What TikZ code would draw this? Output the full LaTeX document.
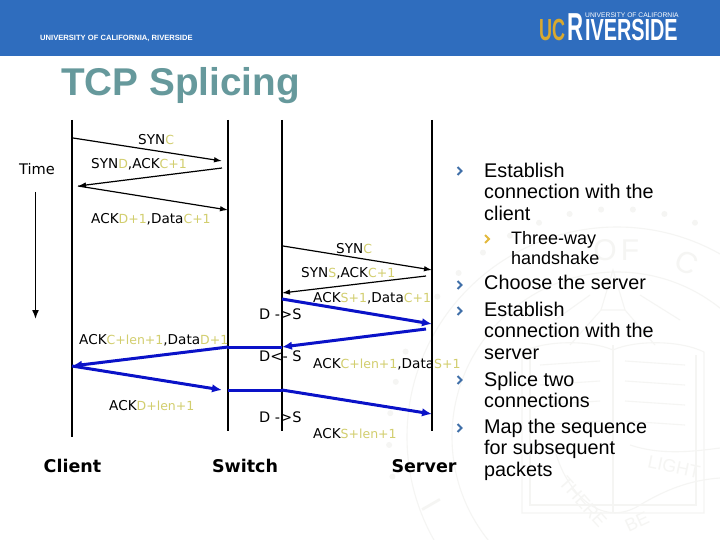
\documentclass[tikz,border=0pt]{standalone}
\usepackage{fontspec}
\setmainfont{Liberation Sans}
\newfontfamily\lblfont{DejaVu Sans}
\usetikzlibrary{arrows.meta,calc}
\definecolor{hdr}{HTML}{2F6DBE}
\definecolor{ttl}{HTML}{66999C}
\definecolor{subc}{HTML}{D2CE6E}
\definecolor{arrb}{HTML}{0A12C8}
\definecolor{bul}{HTML}{3F6FA8}
\definecolor{bulb}{HTML}{E3B93C}
\definecolor{gold}{HTML}{D9A92F}
\definecolor{wm}{HTML}{F5F5F3}
\newcommand{\sbs}[1]{\textcolor{subc}{\fontsize{12.5}{12.5}\selectfont #1}}
\tikzset{
 x=1pt,y=-1pt,
 life/.style={line width=1.7pt,black},
 msg/.style={line width=1.2pt,black,-{Latex[length=8pt,width=5.5pt]}},
 bmsg/.style={line width=3pt,arrb,-{Latex[length=10pt,width=8.5pt]}},
 bline/.style={line width=3pt,arrb},
 lbl/.style={inner sep=0pt,anchor=base west,font=\lblfont\fontsize{13.6}{13.6}\selectfont},
 dlbl/.style={inner sep=0pt,anchor=base west,font=\lblfont\fontsize{14.5}{14.5}\selectfont},
 captext/.style={inner sep=0pt,anchor=base,font=\lblfont\bfseries\fontsize{17.5}{17.5}\selectfont},
 bt/.style={inner sep=0pt,anchor=north west,align=left,font=\fontsize{19.8}{21.5}\selectfont},
 bts/.style={inner sep=0pt,anchor=north west,align=left,font=\fontsize{18}{20}\selectfont},
 chev/.style={line width=2pt,line cap=butt},
 wmline/.style={draw=wm,line width=1.1pt},
 wmtext/.style={wm,inner sep=0pt,font=\fontsize{30}{30}\selectfont},
 wmsmall/.style={wm,inner sep=0pt,font=\fontsize{18}{18}\selectfont},
}
\begin{document}
\begin{tikzpicture}
\useasboundingbox (0,0) rectangle (720,540);
\fill[white] (0,0) rectangle (720,540);
% watermark seal
\coordinate (seal) at (617,437);
\draw[wmline] (seal) circle (210);
\draw[wmline] (seal) circle (165);
\foreach \a in {170,178,...,370} \fill[wm] ($(seal)+(\a:228)$) circle (3);
\node[wmtext] (wo) at (605,250) {O};
\node[wmtext] (wf) at (630,250) {F};
\node[wmtext,rotate=-25] (wc) at (687,263) {C};
\node[wmsmall,font=\fontsize{30}{30}\selectfont,rotate=-60] (wu) at (432,505) {I};
\node[wmsmall,rotate=-12] (wl) at (674,467) {LIGHT};
\node[wmsmall,rotate=-48] (wh) at (583,502) {THERE};
\node[wmsmall,rotate=25] (wb) at (637,522) {BE};
% star and rays
\draw[wmline] (613,270) -- (601,310) -- (625,310) -- cycle;
\draw[wmline] (601,310) -- (570,345) (625,310) -- (655,345) (590,295) -- (555,320) (640,295) -- (680,320);
% book
\draw[wmline] (613,345) -- (613,513);
\draw[wmline] (613,350) .. controls (590,340) and (545,340) .. (522,352) -- (522,513) -- (704,513) -- (704,352) .. controls (680,340) and (635,340) .. (613,350);
\draw[wmline] (530,355) -- (530,505) -- (696,505) -- (696,355);
\foreach \y in {365,385,405,425} {\draw[wmline] (540,\y) -- (600,\y-4); \draw[wmline] (625,\y-4) -- (685,\y);}
% banner
\draw[wmline] (555,450) .. controls (565,490) and (600,530) .. (640,505) .. controls (665,490) and (690,480) .. (720,478);
\draw[wmline] (630,445) .. controls (660,455) and (690,452) .. (720,448);
% header
\fill[hdr] (0,0) rectangle (720,56);
\node[inner sep=0pt,anchor=base west,white,font=\bfseries\fontsize{7.6}{7.6}\selectfont] (uni) at (40,40.5) {UNIVERSITY OF CALIFORNIA, RIVERSIDE};
\node[inner sep=0pt,anchor=base west,gold,font=\bfseries\fontsize{30.5}{30.5}\selectfont,xscale=.59] (uc) at (539,41) {UC};
\node[inner sep=0pt,anchor=base west,white,font=\bfseries\fontsize{39}{39}\selectfont,xscale=.57] (rr) at (567,41) {R};
\node[inner sep=0pt,anchor=base west,white,font=\bfseries\fontsize{30.5}{30.5}\selectfont,xscale=.65] (riv) at (585,41) {IVERSIDE};
\node[inner sep=0pt,anchor=base west,white,font=\fontsize{6.7}{6.7}\selectfont] (ucal) at (585,17.8) {UNIVERSITY OF CALIFORNIA};
% title
\node[inner sep=0pt,anchor=base west,ttl,font=\bfseries\fontsize{38.7}{38.7}\selectfont] (title) at (61,96) {TCP Splicing};
% time axis
\node[lbl,font=\lblfont\fontsize{14.6}{14.6}\selectfont] (time) at (19,175) {Time};
\coordinate (t1) at (35.5,192); \coordinate (t2) at (35.5,319);
\draw[line width=1.5pt,-{Latex[length=9pt,width=7pt]}] (t1) -- (t2);
% lifelines
\coordinate (c1) at (72,120); \coordinate (c2) at (72,437);
\coordinate (a1) at (228,120); \coordinate (a2) at (228,431);
\coordinate (b1) at (282,120); \coordinate (b2) at (282,431);
\coordinate (s1) at (432,120); \coordinate (s2) at (432,431);
\draw[life] (c1)--(c2); \draw[life] (a1)--(a2); \draw[life] (b1)--(b2); \draw[life] (s1)--(s2);
% messages
\coordinate (m1) at (73,138); \coordinate (m2) at (222,161);
\coordinate (m3) at (222,168); \coordinate (m4) at (78,186);
\coordinate (m5) at (228,210);
\draw[msg] (m1)--(m2); \draw[msg] (m3)--(m4); \draw[msg] (m4)--(m5);
\coordinate (n1) at (283,246); \coordinate (n2) at (432,270);
\coordinate (n3) at (426,276); \coordinate (n4) at (282,293);
\draw[msg] (n1)--(n2); \draw[msg] (n3)--(n4);
\coordinate (p1) at (282,299); \coordinate (p2) at (432,324);
\coordinate (p3) at (426,329); \coordinate (p4) at (282,347);
\coordinate (p5) at (228,347); \coordinate (p6) at (72,366);
\coordinate (p7) at (222,390); \coordinate (p8) at (228,390);
\coordinate (p9) at (282,390); \coordinate (p10) at (432,414);
\draw[bmsg] (p1)--(p2); \draw[bmsg] (p3)--(p4); \draw[bline] (p4)--(p5);
\draw[bmsg] (p5)--(p6); \draw[bmsg] (p6)--(p7); \draw[bline] (p8)--(p9); \draw[bmsg] (p9)--(p10);
% labels
\node[lbl] (l1) at (138,145) {SYN\sbs{C}};
\node[lbl] (l2) at (91,169) {SYN\sbs{D},ACK\sbs{C+1}};
\node[lbl] (l3) at (91,223) {ACK\sbs{D+1},Data\sbs{C+1}};
\node[lbl] (l4) at (336,253) {SYN\sbs{C}};
\node[lbl] (l5) at (301,277) {SYN\sbs{S},ACK\sbs{C+1}};
\node[lbl] (l6) at (313,302) {ACK\sbs{S+1},Data\sbs{C+1}};
\node[lbl] (l7) at (79,344) {ACK\sbs{C+len+1},Data\sbs{D+1}};
\node[lbl] (l8) at (313,368) {ACK\sbs{C+len+1},Data\sbs{S+1}};
\node[lbl] (l9) at (109,410) {ACK\sbs{D+len+1}};
\node[lbl] (l10) at (313,438) {ACK\sbs{S+len+1}};
\node[dlbl] (d1) at (259,319) {D -{}>S};
\node[dlbl] (d2) at (259,361) {D<{}- S};
\node[dlbl] (d3) at (259,422) {D -{}>S};
\node[captext] (client) at (72.5,472) {Client};
\node[captext] (switch) at (245,472) {Switch};
\node[captext] (server) at (424,472) {Server};
% bullets
\foreach \y in {171,285,311,380,428}
  \draw[chev,bul] (457.5,\y-4) -- (461.5,\y) -- (457.5,\y+4);
\draw[chev,bulb] (485,235) -- (489,239) -- (485,243);
\node[bt] (b1t) at (484,162.6) {Establish\\connection with the\\client};
\node[bts] (b2t) at (511,230.9) {Three-way\\handshake};
\node[bt] (b3t) at (484,274.6) {Choose the server};
\node[bt] (b4t) at (484,301.6) {Establish\\connection with the\\server};
\node[bt] (b5t) at (484,371.6) {Splice two\\connections};
\node[bt] (b6t) at (484,418.6) {Map the sequence\\for subsequent\\packets};
\end{tikzpicture}
\end{document}
